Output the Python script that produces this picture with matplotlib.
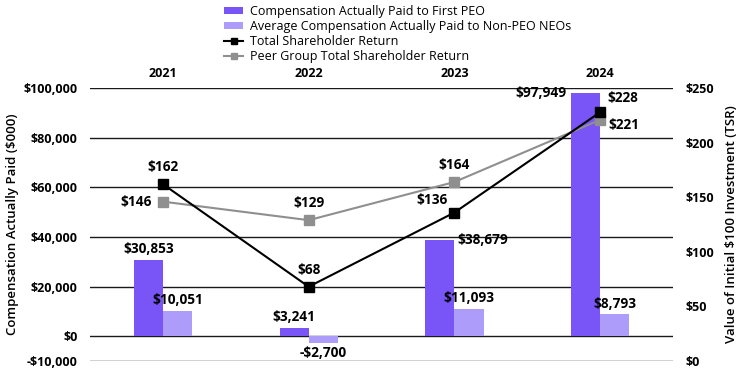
import numpy as np
import matplotlib.pyplot as plt

plt.rcParams['font.family'] = ['Open Sans', 'DejaVu Sans']

years = ['2021', '2022', '2023', '2024']
peo_cap = [30853, 3241, 38679, 97949]
neo_cap = [10051, -2700, 11093, 8793]
tsr = [162, 68, 136, 228]
peer_tsr = [146, 129, 164, 221]

peo_labels = ['$30,853', '$3,241', '$38,679', '$97,949']
neo_labels = ['$10,051', '-$2,700', '$11,093', '$8,793']

c_peo = '#7954f6'
c_neo = '#ae9cfa'
c_peer = '#8f8f8f'
fs = 9.8  # data label size

fig = plt.figure(figsize=(7.38, 3.69), dpi=100)
ax = fig.add_axes([0.122, 0.022, 0.79, 0.739])
x = np.arange(len(years))
w = 0.2

ax.bar(x - w / 2, peo_cap, w, color=c_peo, label='Compensation Actually Paid to First PEO', zorder=2)
ax.bar(x + w / 2, neo_cap, w, color=c_neo, label='Average Compensation Actually Paid to Non-PEO NEOs', zorder=2)

ax.set_xlim(-0.5, 3.5)
ax.set_ylim(-10000, 100000)
yt = [-10000, 0, 20000, 40000, 60000, 80000, 100000]
ax.set_yticks(yt)
ax.set_yticklabels(['-$10,000' if v < 0 else '${:,}'.format(v) for v in yt], fontweight='bold', fontsize=9)
for v in yt:
    ax.axhline(v, color='#1a1a1a', lw=1, zorder=1)
for s in ax.spines.values():
    s.set_visible(False)
ax.tick_params(axis='y', length=0, pad=9)
ax.xaxis.tick_top()
ax.set_xticks(x)
ax.set_xticklabels(years, fontweight='bold', fontsize=9)
ax.tick_params(axis='x', length=0, pad=6)
ax.set_ylabel('Compensation Actually Paid ($000)', fontsize=9.5, fontweight='semibold', labelpad=3)

# bar labels
for i in range(len(years)):
    if i == 2:
        ax.text(x[i] + 0.02, peo_cap[i], peo_labels[i], ha='left', va='center', fontsize=fs, fontweight='bold')
    elif i == 3:
        ax.text(x[i] - w - 0.03, peo_cap[i], peo_labels[i], ha='right', va='center', fontsize=fs, fontweight='bold')
    else:
        ax.text(x[i] - w / 2, peo_cap[i] + 1500, peo_labels[i], ha='center', va='bottom', fontsize=fs, fontweight='bold')
    if neo_cap[i] < 0:
        ax.text(x[i] + w / 2, neo_cap[i] - 1200, neo_labels[i], ha='center', va='top', fontsize=fs, fontweight='bold')
    else:
        ax.text(x[i] + w / 2, neo_cap[i] + 1500, neo_labels[i], ha='center', va='bottom', fontsize=fs, fontweight='bold')

ax2 = ax.twinx()
ax2.set_ylim(0, 250)
ax2.set_yticks([0, 50, 100, 150, 200, 250])
ax2.set_yticklabels(['$0', '$50', '$100', '$150', '$200', '$250'], fontweight='bold', fontsize=9)
ax2.tick_params(axis='y', length=0, pad=9)
for s in ax2.spines.values():
    s.set_visible(False)
ax2.set_ylabel('Value of Initial $100 Investment (TSR)', fontsize=9.5, fontweight='semibold', labelpad=8)

ax2.plot(x, peer_tsr, color=c_peer, lw=1.5, marker='s', ms=7, label='Peer Group Total Shareholder Return', zorder=3)
ax2.plot(x, tsr, color='black', lw=1.5, marker='s', ms=7, label='Total Shareholder Return', zorder=4)

# line labels
ax2.annotate('$162', (x[0], tsr[0]), xytext=(0, 7), textcoords='offset points', ha='center', va='bottom', fontsize=fs, fontweight='bold')
ax2.annotate('$68', (x[1], tsr[1]), xytext=(0, 7), textcoords='offset points', ha='center', va='bottom', fontsize=fs, fontweight='bold')
ax2.annotate('$136', (x[2], tsr[2]), xytext=(-5, 4), textcoords='offset points', ha='right', va='bottom', fontsize=fs, fontweight='bold')
ax2.annotate('$228', (x[3], tsr[3]), xytext=(5, 5), textcoords='offset points', ha='left', va='bottom', fontsize=fs, fontweight='bold')
ax2.annotate('$146', (x[0], peer_tsr[0]), xytext=(-8, 0), textcoords='offset points', ha='right', va='center', fontsize=fs, fontweight='bold')
ax2.annotate('$129', (x[1], peer_tsr[1]), xytext=(0, 7), textcoords='offset points', ha='center', va='bottom', fontsize=fs, fontweight='bold')
ax2.annotate('$164', (x[2], peer_tsr[2]), xytext=(0, 7), textcoords='offset points', ha='center', va='bottom', fontsize=fs, fontweight='bold')
ax2.annotate('$221', (x[3], peer_tsr[3]), xytext=(6, -4), textcoords='offset points', ha='left', va='center', fontsize=fs, fontweight='bold')

h1, l1 = ax.get_legend_handles_labels()
h2, l2 = ax2.get_legend_handles_labels()
h = h1 + [h2[1], h2[0]]
l = l1 + [l2[1], l2[0]]
fig.legend(h, l, loc='upper left', bbox_to_anchor=(0.292, 1.01), frameon=False, fontsize=9,
           handlelength=1.5, handleheight=0.5, labelspacing=0.15, handletextpad=0.6, borderpad=0.2,
           markerscale=0.7)

fig.savefig('out.png', dpi=100)
